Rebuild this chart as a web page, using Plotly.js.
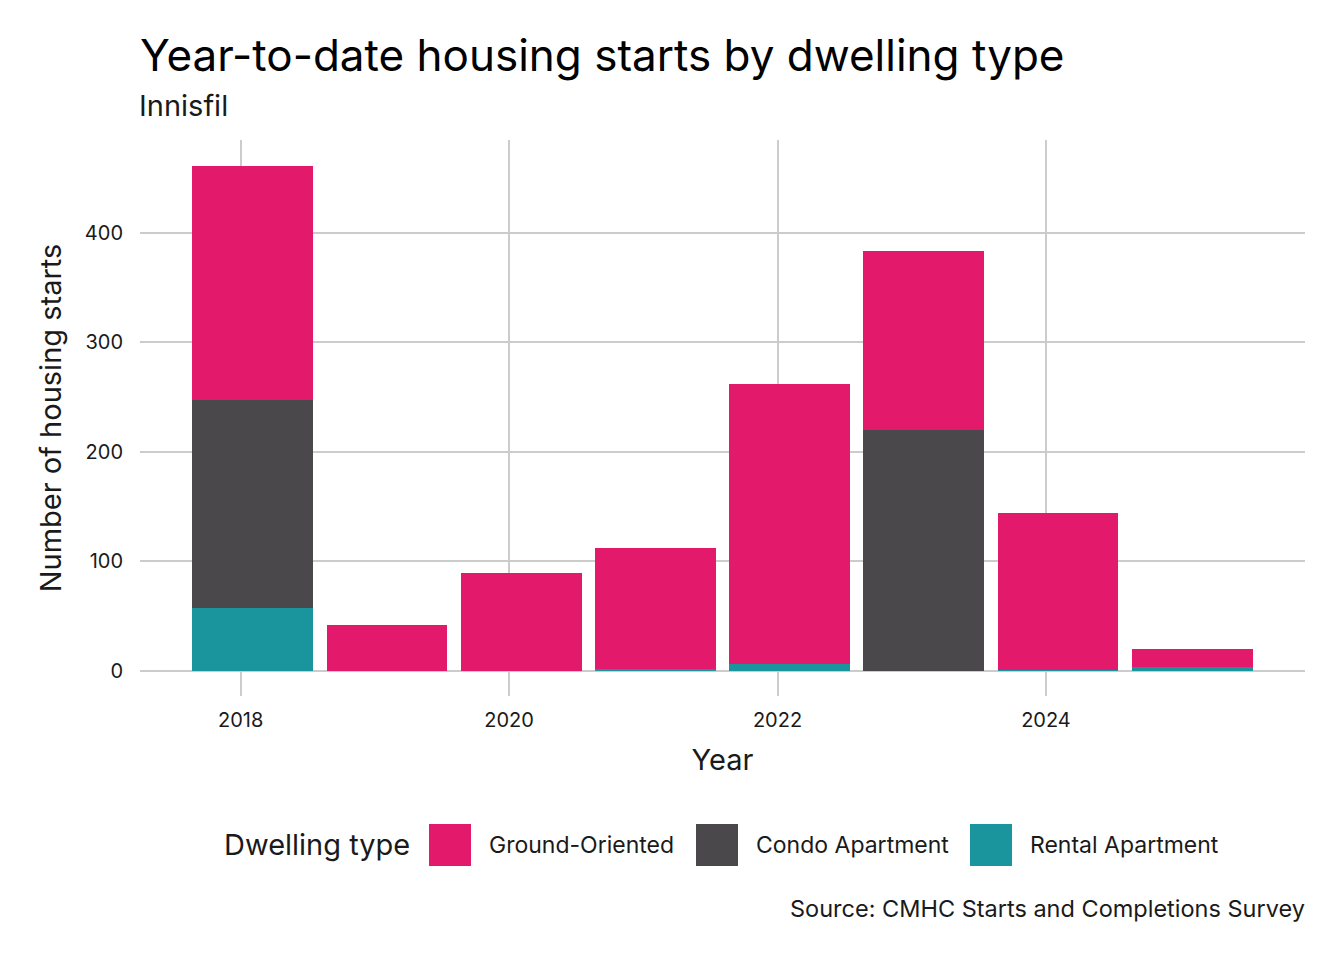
<!DOCTYPE html>
<html>
<head>
<meta charset="utf-8">
<script src="https://cdn.plot.ly/plotly-3.0.1.min.js"></script>
<style>html,body{margin:0;padding:0;background:#fff;}#chart{width:1344px;height:960px;}</style>
</head>
<body>
<div id="chart"></div>
<script>
// ---- data ----
var years = [2018, 2019, 2020, 2021, 2022, 2023, 2024, 2025];
var groundOriented = [214, 42, 89, 110, 256, 163, 143, 17];
var condoApartment = [190, 0, 0, 0, 0, 220, 0, 0];
var rentalApartment = [57, 0, 0, 2, 6, 0, 1, 3];
var seriesNames = ['Ground-Oriented', 'Condo Apartment', 'Rental Apartment'];
var seriesColors = ['#E31A6C', '#4A484B', '#1A959E'];
var xTicks = [2018, 2020, 2022, 2024];
var yTicks = [0, 100, 200, 300, 400];

var FONT = 'Inter, "Noto Sans", sans-serif';
var W = 1344, H = 960;
var M = {l: 140, r: 39, t: 140, b: 264};
var PW = W - M.l - M.r, PH = H - M.t - M.b;
function px(x) { return (x - M.l) / PW; }
function py(y) { return (H - M.b - y) / PH; }

function barTrace(name, vals, color) {
  return {
    type: 'bar', name: name, x: years, y: vals,
    width: 0.9, offset: -0.36,
    marker: {color: color, line: {width: 0}},
    showlegend: false, hoverinfo: 'x+y+name'
  };
}

var data = [
  barTrace(seriesNames[2], rentalApartment, seriesColors[2]),
  barTrace(seriesNames[1], condoApartment, seriesColors[1]),
  barTrace(seriesNames[0], groundOriented, seriesColors[0])
];

// custom legend (keys + labels)
var keyX = [429, 696, 970];
var labelX = [489, 756, 1030];
var shapes = [], annotations = [];
for (var i = 0; i < seriesNames.length; i++) {
  shapes.push({type: 'rect', xref: 'paper', yref: 'paper',
    x0: px(keyX[i]), x1: px(keyX[i] + 42), y0: py(866), y1: py(824),
    fillcolor: seriesColors[i], line: {width: 0}});
  annotations.push({xref: 'paper', yref: 'paper', x: px(labelX[i] - 2), y: py(845),
    xanchor: 'left', yanchor: 'middle', showarrow: false, text: seriesNames[i],
    font: {family: FONT, size: 23, color: '#1a1a1a'}});
}
annotations.push({xref: 'paper', yref: 'paper', x: px(222), y: py(845),
  xanchor: 'left', yanchor: 'middle', showarrow: false, text: 'Dwelling type',
  font: {family: FONT, size: 29, color: '#1a1a1a'}});
annotations.push({xref: 'paper', yref: 'paper', x: px(137), y: py(106),
  xanchor: 'left', yanchor: 'middle', showarrow: false, text: 'Innisfil',
  font: {family: FONT, size: 29, color: '#1a1a1a'}});
annotations.push({xref: 'paper', yref: 'paper', x: px(1307), y: py(908),
  xanchor: 'right', yanchor: 'middle', showarrow: false, text: 'Source: CMHC Starts and Completions Survey',
  font: {family: FONT, size: 23.5, color: '#1a1a1a'}});

var layout = {
  width: W, height: H,
  margin: M,
  paper_bgcolor: '#fff', plot_bgcolor: '#fff',
  barmode: 'stack',
  font: {family: FONT, color: '#1a1a1a'},
  title: {text: 'Year-to-date housing starts by dwelling type',
    x: 0, xref: 'paper', xanchor: 'left',
    y: 1 - 56 / H, yref: 'container', yanchor: 'middle',
    font: {family: FONT, size: 44, color: '#000'}},
  xaxis: {range: [2017.25, 2025.93], tickvals: xTicks, ticktext: xTicks.map(String),
    showgrid: true, gridcolor: '#cccccc', gridwidth: 2, zeroline: false,
    showline: false, ticks: '', ticklabelstandoff: 10,
    tickfont: {family: FONT, size: 20, color: '#1a1a1a'},
    title: {text: 'Year', standoff: 18, font: {family: FONT, size: 29, color: '#1a1a1a'}},
    fixedrange: true},
  yaxis: {range: [-23.1, 484.5], tickvals: yTicks, ticktext: yTicks.map(String),
    showgrid: true, gridcolor: '#cccccc', gridwidth: 2, zeroline: false,
    showline: false, ticks: '', ticklabelstandoff: 16,
    tickfont: {family: FONT, size: 20, color: '#1a1a1a'},
    title: {text: 'Number of housing starts', standoff: 14, font: {family: FONT, size: 29, color: '#1a1a1a'}},
    fixedrange: true},
  shapes: shapes,
  annotations: annotations
};

Plotly.newPlot('chart', data, layout, {displayModeBar: false, staticPlot: true});
</script>
</body>
</html>
